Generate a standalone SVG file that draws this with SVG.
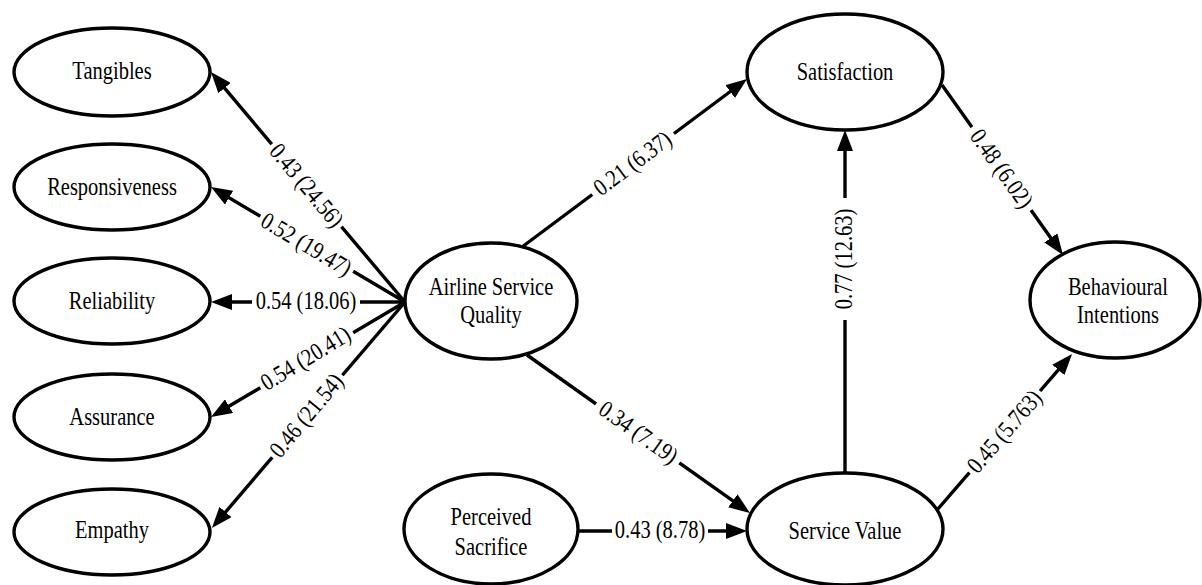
<svg xmlns="http://www.w3.org/2000/svg" width="1202" height="585" viewBox="0 0 1202 585">
<style>
.node ellipse{fill:#fff;stroke:#000;stroke-width:3.4}
text{font-family:'Liberation Serif','Times New Roman',serif;font-size:20.5px;fill:#000;text-anchor:middle}
.edges line{stroke:#000;stroke-width:3.4;marker-end:url(#ah)}
.bg{fill:#fff}
</style>
<defs>
<marker id="ah" markerUnits="userSpaceOnUse" markerWidth="22" markerHeight="16" refX="11" refY="8" orient="auto">
<path d="M0,0 L21,8 L0,16 z" fill="#000"/>
</marker>
</defs>
<rect width="1202" height="585" fill="#fff"/>
<g class="edges" id="connectors">
<line x1="405" y1="302" x2="217.4" y2="79.7"/>
<line x1="405" y1="302" x2="219.6" y2="192.1"/>
<line x1="405" y1="302" x2="221" y2="302"/>
<line x1="405" y1="302" x2="219.6" y2="411.8"/>
<line x1="405" y1="302" x2="218.4" y2="520.4"/>
<line x1="522" y1="247" x2="739" y2="85"/>
<line x1="527" y1="355" x2="741.8" y2="507.2"/>
<line x1="578" y1="531" x2="737" y2="531"/>
<line x1="845" y1="473" x2="845" y2="140"/>
<line x1="942" y1="85" x2="1057.2" y2="246.9"/>
<line x1="937" y1="510" x2="1065.5" y2="361.6"/>
<g transform="translate(306,186) rotate(50.2)"><rect class="bg" x="-54" y="-10" width="108" height="20"/><text transform="scale(1,1.18)" y="6">0.43 (24.56)</text></g>
<g transform="translate(306,245) rotate(30.8)"><rect class="bg" x="-54" y="-10" width="108" height="20"/><text transform="scale(1,1.18)" y="6">0.52 (19.47)</text></g>
<g transform="translate(306,302)"><rect class="bg" x="-54" y="-10" width="108" height="20"/><text transform="scale(1,1.18)" y="6">0.54 (18.06)</text></g>
<g transform="translate(306,359) rotate(-31.3)"><rect class="bg" x="-54" y="-10" width="108" height="20"/><text transform="scale(1,1.18)" y="6">0.54 (20.41)</text></g>
<g transform="translate(307,416) rotate(-50.2)"><rect class="bg" x="-54" y="-10" width="108" height="20"/><text transform="scale(1,1.18)" y="6">0.46 (21.54)</text></g>
<g transform="translate(633,164) rotate(-36.75)"><rect class="bg" x="-51" y="-10" width="102" height="20"/><text transform="scale(1,1.18)" y="6">0.21 (6.37)</text></g>
<g transform="translate(638,433) rotate(35.3)"><rect class="bg" x="-51" y="-10" width="102" height="20"/><text transform="scale(1,1.18)" y="6">0.34 (7.19)</text></g>
<g transform="translate(660,531)"><rect class="bg" x="-48" y="-10" width="96" height="20"/><text transform="scale(1,1.18)" y="6">0.43 (8.78)</text></g>
<g transform="translate(845,259) rotate(-90)"><rect class="bg" x="-61" y="-10" width="122" height="20"/><text transform="scale(1,1.18)" y="6">0.77 (12.63)</text></g>
<g transform="translate(1001,169) rotate(54.6)"><rect class="bg" x="-51" y="-10" width="102" height="20"/><text transform="scale(1,1.18)" y="6">0.48 (6.02)</text></g>
<g transform="translate(1005,432) rotate(-49.1)"><rect class="bg" x="-54" y="-10" width="108" height="20"/><text transform="scale(1,1.18)" y="6">0.45 (5.763)</text></g>
</g>
<g class="node" id="tangibles"><ellipse cx="112" cy="72" rx="98" ry="44"/><text transform="translate(112,79) scale(1,1.18)">Tangibles</text></g>
<g class="node" id="responsiveness"><ellipse cx="112" cy="187" rx="98" ry="43"/><text transform="translate(112,195) scale(1,1.18)">Responsiveness</text></g>
<g class="node" id="reliability"><ellipse cx="112" cy="301" rx="98" ry="43"/><text transform="translate(112,309) scale(1,1.18)">Reliability</text></g>
<g class="node" id="assurance"><ellipse cx="112" cy="417" rx="98" ry="43"/><text transform="translate(112,425) scale(1,1.18)">Assurance</text></g>
<g class="node" id="empathy"><ellipse cx="112" cy="532" rx="98" ry="43"/><text transform="translate(112,538) scale(1,1.18)">Empathy</text></g>
<g class="node" id="asq"><ellipse cx="491" cy="301" rx="86" ry="58"/><text transform="translate(491,295) scale(1,1.18)">Airline Service</text><text transform="translate(491,323) scale(1,1.18)">Quality</text></g>
<g class="node" id="ps"><ellipse cx="491" cy="529" rx="87" ry="55"/><text transform="translate(491,525) scale(1,1.18)">Perceived</text><text transform="translate(491,555) scale(1,1.18)">Sacrifice</text></g>
<g class="node" id="sat"><ellipse cx="845" cy="72" rx="98" ry="58"/><text transform="translate(845,80) scale(1,1.18)">Satisfaction</text></g>
<g class="node" id="sv"><ellipse cx="845" cy="529" rx="98" ry="56"/><text transform="translate(845,539) scale(1,1.18)">Service Value</text></g>
<g class="node" id="bi"><ellipse cx="1115" cy="300" rx="85" ry="58"/><text transform="translate(1118,295) scale(1,1.18)">Behavioural</text><text transform="translate(1118,323) scale(1,1.18)">Intentions</text></g>
</svg>
